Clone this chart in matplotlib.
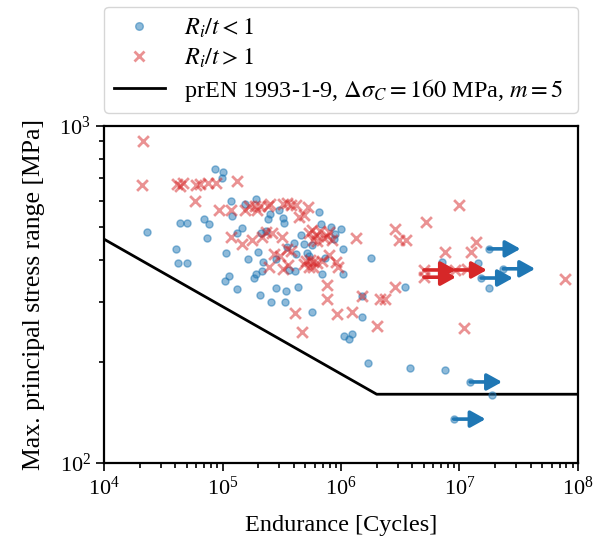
import matplotlib
matplotlib.use("Agg")
import matplotlib.pyplot as plt
from matplotlib.lines import Line2D
from matplotlib.ticker import NullFormatter

plt.rcParams['font.family'] = ['Liberation Serif', 'DejaVu Serif']
plt.rcParams['mathtext.fontset'] = 'stix'

# ---- data: R_i/t < 1 (blue circles) ----
blue_cycles = [23000, 40700, 42500, 50200, 44000, 50500, 70200, 76600, 73300, 85600,
               101000, 99000, 118000, 121000, 106000, 113000, 104000, 132000, 145000, 132000,
               156000, 193000, 252000, 244000, 298000, 325000, 330000, 652000, 674000, 819000,
               1006000, 895000, 881000, 1040000, 213000, 234000, 462000, 483000, 571000, 403000,
               352000, 199000, 165000, 281000, 218000, 519000, 537000, 417000, 736000, 215000,
               192000, 186000, 366000, 412000, 691000, 1030000, 207000, 283000, 341000, 435000,
               256000, 338000, 566000, 1070000, 1170000, 1230000, 1490000, 1500000, 1690000, 3800000,
               7540000, 18800000, 1800000, 7120000, 3470000, 14300000, 17800000]
blue_stress = [484, 431, 392, 391, 514, 514, 531, 512, 466, 744,
               730, 700, 599, 541, 421, 359, 348, 328, 499, 480,
               586, 608, 550, 529, 565, 532, 514, 554, 511, 501,
               496, 477, 461, 432, 483, 488, 475, 447, 445, 449,
               438, 424, 402, 403, 394, 421, 411, 417, 406, 371,
               363, 353, 373, 371, 363, 363, 316, 330, 323, 332,
               300, 300, 280, 239, 234, 242, 272, 312, 198, 191,
               189, 159, 405, 396, 333, 393, 330]
# run-outs (R_i/t < 1)
blue_runout_cycles = [12300000, 8930000, 17600000, 23400000, 15200000]
blue_runout_stress = [174, 135, 432, 377, 354]

# ---- data: R_i/t > 1 (red crosses) ----
red_cycles = [21500, 21100, 40900, 43800, 46000, 59200, 64600, 75400, 88500, 132000,
              58800, 93100, 117000, 155000, 166000, 188000, 194000, 207000, 241000, 254000,
              325000, 352000, 375000, 420000, 522000, 445000, 485000, 117000, 146000, 176000,
              217000, 233000, 262000, 318000, 537000, 569000, 615000, 665000, 719000, 787000,
              840000, 584000, 631000, 757000, 1350000, 274000, 306000, 348000, 378000, 248000,
              322000, 359000, 507000, 547000, 584000, 631000, 687000, 787000, 902000, 943000,
              487000, 534000, 584000, 757000, 757000, 2870000, 3100000, 3540000, 5220000, 9840000,
              7590000, 12400000, 13800000, 78100000, 1500000, 2130000, 2350000, 2870000, 412000, 471000,
              929000, 1230000, 2000000, 10900000, 11500000]
red_stress = [903, 667, 675, 666, 677, 667, 671, 676, 676, 687,
              598, 564, 563, 563, 580, 580, 563, 580, 580, 585,
              585, 593, 583, 583, 576, 536, 545, 467, 447, 459,
              467, 484, 483, 470, 483, 491, 475, 489, 464, 486,
              459, 459, 457, 472, 466, 417, 412, 432, 427, 382,
              377, 388, 398, 400, 395, 393, 398, 413, 395, 382,
              389, 382, 382, 338, 307, 494, 458, 458, 518, 583,
              424, 424, 454, 351, 312, 307, 307, 334, 279, 244,
              277, 281, 255, 251, 376]
# run-outs (R_i/t > 1)
red_runout_cycles = [5020000, 5020000, 9160000]
red_runout_stress = [374, 356, 374]

# ---- design curve prEN 1993-1-9 ----
curve_cycles = [1e4, 2e6, 1e8]
curve_stress = [461.6, 160, 160]

RUNOUT_FACTOR = 1.86
BLUE = '#1f77b4'
RED = '#d62728'

fig = plt.figure(figsize=(6.03, 5.43), dpi=100)
ax = fig.add_axes([0.1725, 0.1473, 0.786, 0.6206])

ax.plot(curve_cycles, curve_stress, color='black', lw=2, zorder=2)
ax.scatter(blue_cycles + blue_runout_cycles, blue_stress + blue_runout_stress,
           s=26, color=BLUE, alpha=0.5, zorder=3)
ax.scatter(red_cycles + red_runout_cycles, red_stress + red_runout_stress,
           s=60, marker='x', color=RED, alpha=0.5, linewidths=2, zorder=3)

def runout(x, y, color):
    ax.annotate('', xy=(x * RUNOUT_FACTOR, y), xytext=(x, y),
                arrowprops=dict(arrowstyle='-|>,head_length=0.45,head_width=0.25',
                                color=color, lw=2.6, shrinkA=0, shrinkB=0,
                                mutation_scale=20), zorder=4)

for x, y in zip(blue_runout_cycles, blue_runout_stress):
    runout(x, y, BLUE)
for x, y in zip(red_runout_cycles, red_runout_stress):
    runout(x, y, RED)

ax.set_xscale('log')
ax.set_yscale('log')
ax.set_xlim(1e4, 1e8)
ax.set_ylim(100, 1000)
ax.yaxis.set_minor_formatter(NullFormatter())
ax.set_xlabel('Endurance [Cycles]', fontsize=17.5, labelpad=11)
ax.set_ylabel('Max. principal stress range [MPa]', fontsize=18.5, labelpad=10)
ax.tick_params(which='both', direction='out', labelsize=16, width=1.2)
ax.tick_params(which='major', length=6)
ax.tick_params(which='minor', length=3.5)
for s in ax.spines.values():
    s.set_linewidth(1.6)

handles = [
    Line2D([], [], marker='o', ls='none', color=BLUE, alpha=0.5, markersize=5.5),
    Line2D([], [], marker='x', ls='none', color=RED, alpha=0.5, markersize=7, markeredgewidth=2),
    Line2D([], [], color='black', lw=2),
]
labels = [r'$R_i/t < 1$', r'$R_i/t > 1$',
          r'prEN 1993-1-9, $\Delta\sigma_C = 160$ MPa, $m = 5$']
ax.legend(handles, labels, loc='lower left', bbox_to_anchor=(0, 1.038, 1, 0.1),
          mode='expand', borderaxespad=0, fontsize=17.5, handlelength=2.1,
          labelspacing=0.28, fancybox=True)

fig.savefig('out.png', dpi=100)
